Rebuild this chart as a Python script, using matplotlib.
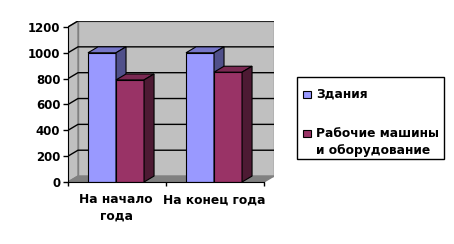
import matplotlib
matplotlib.use("Agg")
import matplotlib.pyplot as plt
from matplotlib.patches import Polygon, Rectangle

categories = ["На начало\nгода", "На конец года"]
series_names = ["Здания", "Рабочие машины\nи оборудование"]
buildings = [1000, 1000]
machines = [790, 850]
yticks = [0, 200, 400, 600, 800, 1000, 1200]

front_cols = ["#9999FF", "#993366"]
top_cols = ["#7676C8", "#7A2952"]
side_cols = ["#50508A", "#4D1A33"]

W, H = 454, 244
fig = plt.figure(figsize=(W / 100, H / 100), dpi=100)
fig.patch.set_facecolor("white")

DX, DY = 0.102, 46.0
px_left, px_right, px_bot, px_top = 68, 274, 182, 21
ax = fig.add_axes([px_left / W, 1 - px_bot / H, (px_right - px_left) / W, (px_bot - px_top) / H])
ax.set_xlim(0, 2 + DX)
ax.set_ylim(0, 1200 + DY)
ax.patch.set_alpha(0)

# walls
ax.add_patch(Polygon([(DX, DY), (2 + DX, DY), (2 + DX, 1200 + DY), (DX, 1200 + DY)],
                     closed=True, facecolor="#C0C0C0", edgecolor="#808080", lw=1, zorder=1))
ax.add_patch(Polygon([(0, 0), (DX, DY), (DX, 1200 + DY), (0, 1200)],
                     closed=True, facecolor="#C0C0C0", edgecolor="#808080", lw=1, zorder=1))
ax.add_patch(Polygon([(0, 0), (2, 0), (2 + DX, DY), (DX, DY)],
                     closed=True, facecolor="#808080", edgecolor="#808080", lw=1, zorder=1.5))
for v in yticks[1:]:
    ax.plot([0, DX, 2 + DX], [v, v + DY, v + DY], color="black", lw=1, zorder=2,
            solid_capstyle="butt")

# bars
bw = 0.286
for i in range(len(categories)):
    center = i + 0.49
    for s, vals in enumerate([buildings, machines]):
        x0 = center - bw + s * bw
        x1 = x0 + bw
        h = vals[i]
        ax.bar(x0, h, width=bw, align="edge", color=front_cols[s], edgecolor="black",
               lw=0.8, zorder=3 + s)
        ax.add_patch(Polygon([(x0, h), (x1, h), (x1 + DX, h + DY), (x0 + DX, h + DY)],
                             closed=True, facecolor=top_cols[s], edgecolor="black", lw=0.8,
                             zorder=3 + s))
        ax.add_patch(Polygon([(x1, 0), (x1 + DX, DY), (x1 + DX, h + DY), (x1, h)],
                             closed=True, facecolor=side_cols[s], edgecolor="black", lw=0.8,
                             zorder=3 + s))

# axes
for sp in ["top", "right"]:
    ax.spines[sp].set_visible(False)
ax.spines["left"].set_bounds(0, 1200)
ax.spines["bottom"].set_bounds(0, 2)
ax.spines["left"].set_zorder(6)
ax.spines["bottom"].set_zorder(6)
ax.set_yticks(yticks)
ax.set_yticklabels([str(v) for v in yticks], fontsize=8.5, fontweight="bold", family="DejaVu Sans")
ax.tick_params(axis="y", direction="out", length=3.5, width=1, pad=2)
ax.set_xticks([0, 1, 2])
ax.set_xticklabels([])
ax.tick_params(axis="x", direction="out", length=3, width=1)
ax.set_xticks([0.49, 1.49], minor=True)
ax.set_xticklabels(categories, minor=True, fontsize=8.8, fontweight="bold", family="DejaVu Sans",
                   linespacing=1.35)
ax.tick_params(axis="x", which="minor", length=0, pad=8)

# legend (manual)
def fx(px):
    return px / W

def fy(py):
    return 1 - py / H

fig.patches.append(Rectangle((fx(297), fy(159)), fx(444) - fx(297), fy(77) - fy(159),
                             transform=fig.transFigure, facecolor="white", edgecolor="black",
                             lw=1))
legend_rows = [(94, 0), (133.5, 1)]
for py, s in legend_rows:
    fig.patches.append(Rectangle((fx(303), fy(py + 3.5)), fx(311) - fx(303), fy(py - 3.5) - fy(py + 3.5),
                                 transform=fig.transFigure, facecolor=front_cols[s],
                                 edgecolor="black", lw=0.8))
fig.text(fx(316), fy(94), series_names[0], fontsize=8.8, fontweight="bold", va="center", ha="left",
         family="DejaVu Sans")
lines = series_names[1].split("\n")
fig.text(fx(316), fy(133.5), lines[0], fontsize=8.8, fontweight="bold", va="center", ha="left",
         family="DejaVu Sans")
fig.text(fx(316), fy(150.5), lines[1], fontsize=8.8, fontweight="bold", va="center", ha="left",
         family="DejaVu Sans")

fig.savefig("out.png", dpi=100)
